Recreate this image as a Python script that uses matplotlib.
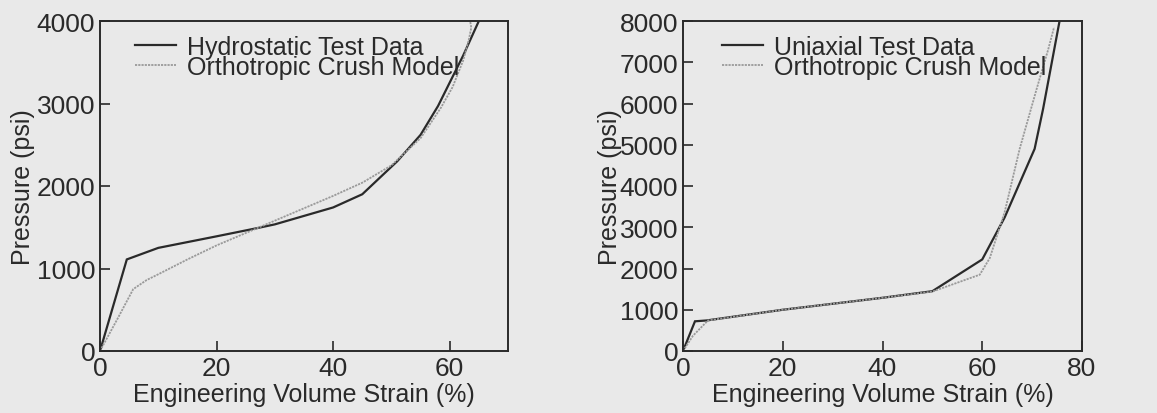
import matplotlib
matplotlib.use("Agg")
import matplotlib.pyplot as plt

# ---- data ----
hydro_x = [0, 4.6, 10, 20, 27, 30, 40, 45, 51, 55, 58, 62.3, 65]
hydro_y = [0, 1110, 1250, 1390, 1490, 1535, 1740, 1900, 2300, 2620, 2970, 3580, 4000]

hmodel_x = [0, 3, 5.7, 8, 10, 15, 20, 25, 28, 35, 40, 45, 50, 55, 58.5, 60.5, 62.3, 63.3, 63.7, 63.5]
hmodel_y = [0, 390, 750, 860, 930, 1110, 1280, 1430, 1520, 1730, 1880, 2040, 2250, 2580, 2950, 3200, 3520, 3780, 3920, 4000]

uni_x = [0, 2.4, 4.7, 20, 40, 50, 60, 64.5, 70.5, 72.2, 75.5]
uni_y = [0, 720, 740, 1000, 1290, 1450, 2220, 3240, 4900, 5870, 8000]

umodel_x = [0, 2, 5, 20, 40, 50, 59.5, 61.5, 64.5, 67.5, 70.9, 73.2, 74.4]
umodel_y = [0, 370, 740, 1000, 1290, 1440, 1850, 2250, 3370, 4900, 6350, 7300, 7850]

left_xticks = [0, 20, 40, 60]
left_yticks = [0, 1000, 2000, 3000, 4000]
right_xticks = [0, 20, 40, 60, 80]
right_yticks = [0, 1000, 2000, 3000, 4000, 5000, 6000, 7000, 8000]

xlabel = "Engineering Volume Strain (%)"
ylabel = "Pressure (psi)"

plt.rcParams['font.family'] = ['Liberation Sans', 'DejaVu Sans']

BG = '#e9e9e9'
INK = '#2a2a2a'
GRAY = '#9a9a9a'

fig = plt.figure(figsize=(11.57, 4.14), dpi=100, facecolor=BG)
W, H = 1157.0, 414.0
ax1 = fig.add_axes([100 / W, (414 - 352) / H, 408 / W, 330 / H], facecolor=BG)
ax2 = fig.add_axes([683 / W, (414 - 352) / H, 399 / W, 330 / H], facecolor=BG)


def style(ax, xlim, ylim, xt, yt, ylab_x, leg_x, labels, xd, yd, mx, my):
    ax.plot(xd, yd, color=INK, lw=1.6, label=labels[0], solid_joinstyle='miter')
    ax.plot(mx, my, color=GRAY, lw=1.3, linestyle=(0, (1.2, 0.6)), label=labels[1])
    ax.set_xlim(*xlim)
    ax.set_ylim(*ylim)
    ax.set_xticks(xt)
    ax.set_yticks(yt)
    ax.tick_params(direction='in', length=7, width=1.2, color=INK,
                   labelsize=19, labelcolor=INK, pad=3.5, top=False, right=False)
    for s in ax.spines.values():
        s.set_linewidth(1.4)
        s.set_color(INK)
    ax.set_xlabel(xlabel, fontsize=18, color=INK)
    ax.set_ylabel(ylabel, fontsize=18, color=INK)
    ax.xaxis.set_label_coords(0.5, -0.093)
    ax.yaxis.set_label_coords(ylab_x, 0.5)
    ax.legend(loc='upper left', bbox_to_anchor=(leg_x, 0.958), frameon=False,
              fontsize=18, borderpad=0, borderaxespad=0, handlelength=1.64,
              handletextpad=0.45, labelspacing=-0.15, labelcolor=INK)


style(ax1, (0, 70), (0, 4000), left_xticks, left_yticks, -0.159, 0.086,
      ["Hydrostatic Test Data", "Orthotropic Crush Model"],
      hydro_x, hydro_y, hmodel_x, hmodel_y)
style(ax2, (0, 80), (0, 8000), right_xticks, right_yticks, -0.153, 0.098,
      ["Uniaxial Test Data", "Orthotropic Crush Model"],
      uni_x, uni_y, umodel_x, umodel_y)

fig.savefig("out.png", dpi=100, facecolor=BG)
